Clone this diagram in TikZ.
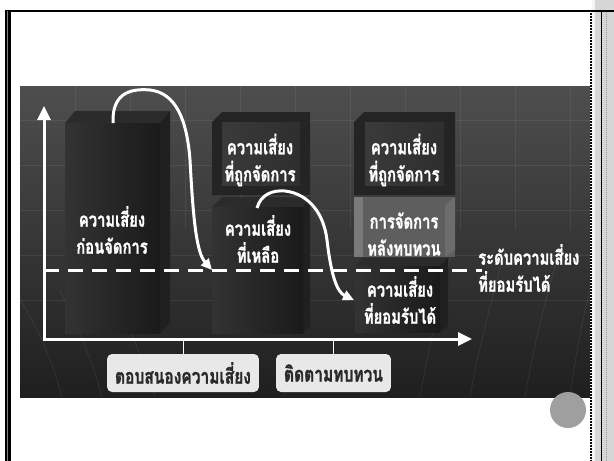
\documentclass[tikz,border=0pt]{standalone}
\usepackage{fontspec}
\newfontfamily\thai[Script=Thai, FakeStretch=0.74, BoldFeatures={FakeBold=1.2}]{Loma}
\usetikzlibrary{arrows.meta}

\definecolor{panelTop}{HTML}{4E4E4E}
\definecolor{panelBot}{HTML}{1F1F1F}
\definecolor{faceL}{HTML}{333333}
\definecolor{faceR}{HTML}{1A1A1A}
\definecolor{topFace}{HTML}{2B2B2B}
\definecolor{sideFace}{HTML}{202020}
\definecolor{frameDark}{HTML}{242424}
\definecolor{frameIn}{HTML}{3A3A3A}
\definecolor{liteMid}{HTML}{5E5E5E}
\definecolor{liteEdge}{HTML}{7A7A7A}
\definecolor{lblFill}{HTML}{E8E8E8}
\definecolor{lblText}{HTML}{2A2A2A}
\definecolor{stripGray}{HTML}{D6D6D6}
\definecolor{dotGray}{HTML}{9A9A9A}

\tikzset{
  wtxt/.style={text=white, font=\thai\bfseries\fontsize{20}{27}\selectfont, align=center, inner sep=0pt},
  lbl/.style={draw=none, fill=lblFill, rounded corners=5pt, text=lblText,
    font=\thai\bfseries\fontsize{21}{22}\selectfont, minimum height=38pt, inner xsep=8pt},
  axisline/.style={white, line width=3pt, -{Triangle[length=14pt,width=13pt]}},
  curvearrow/.style={white, line width=3pt, -{Triangle[length=11pt,width=10pt]}},
  faint/.style={white, opacity=0.07, line width=0.8pt},
}

\begin{document}
\begin{tikzpicture}[x=1pt,y=-1pt]
\useasboundingbox (0,0) rectangle (614,461);
\fill[white] (0,0) rectangle (614,461);

% right hatched margin strip
\fill[stripGray] (594,0) rectangle (614,461);
\fill[white!92!gray] (592,0) rectangle (595,461);
\draw[black, line width=1.2pt] (601.5,10) -- (601.5,461);
\draw[dotGray, line width=1pt, dash pattern=on 1pt off 1pt] (606,10) -- (606,461);

% page frame
\draw[black, line width=2pt] (5,10.5) -- (614,10.5);
\fill[black] (5,10) rectangle (10.5,461);
\draw[gray, line width=1pt] (7.8,11) -- (7.8,461);
\draw[black, line width=2pt, dash pattern=on 2pt off 1pt] (591,10) -- (591,461);

% dark panel
\shade[top color=panelTop, bottom color=panelBot] (20,86) rectangle (590,397);

% faint globe grid
\begin{scope}
\clip (20,86) rectangle (590,397);
\foreach \yy in {120,165,210,255,300} \draw[faint] (20,\yy) -- (590,\yy);
\foreach \xx in {75,130,185,240,295,350,405,460,515,570} \draw[faint] (\xx,86) -- (\xx,230);
\draw[faint] (20,300) .. controls (40,330) and (55,370) .. (62,397);
\draw[faint] (60,290) .. controls (80,330) and (95,370) .. (102,397);
\draw[faint] (130,330) .. controls (140,355) and (150,380) .. (155,397);
\draw[faint] (420,397) .. controls (430,340) and (440,300) .. (452,250);
\draw[faint] (470,397) .. controls (480,340) and (492,300) .. (505,250);
\draw[faint] (525,397) .. controls (535,340) and (545,300) .. (560,250);
\draw[faint] (570,397) .. controls (575,360) and (582,320) .. (590,290);
\end{scope}

% ---- bar 1: risk before treatment
\fill[topFace] (65,123) -- (75,111) -- (170,111) -- (160,123) -- cycle;
\fill[sideFace] (160,123) -- (170,111) -- (170,323) -- (160,333) -- cycle;
\shade[left color=faceL, right color=faceR] (65,123) rectangle (160,333);

% ---- bar 2 upper: treated risk (bevel frame)
\fill[frameDark] (212,122) -- (222,112) -- (310,112) -- (310,195) -- (212,195) -- cycle;
\shade[left color=frameIn, right color=frameIn!80!black] (222,122) rectangle (300,185);

% ---- bar 2 lower: residual risk
\fill[topFace] (212,207) -- (222,197) -- (310,197) -- (303,207) -- cycle;
\fill[sideFace] (303,207) -- (310,197) -- (310,326) -- (303,333) -- cycle;
\shade[left color=faceL, right color=faceR] (212,207) rectangle (303,333);

% ---- bar 3 upper: treated risk (bevel frame)
\fill[frameDark] (354,122) -- (364,112) -- (455,112) -- (455,195) -- (354,195) -- cycle;
\shade[left color=frameIn, right color=frameIn!80!black] (365,122) rectangle (444,185);

% ---- bar 3 middle: treatment after review
\fill[liteMid] (354,197) rectangle (455,257);
\fill[liteEdge] (354,197) rectangle (363,257);
\fill[liteEdge!110!white] (445,205) -- (455,197) -- (455,250) -- (445,257) -- cycle;

% ---- bar 3 lower: acceptable risk
\fill[topFace] (355,266) -- (363,258) -- (448,258) -- (440,266) -- cycle;
\fill[sideFace] (440,266) -- (448,258) -- (448,326) -- (440,332) -- cycle;
\shade[left color=faceL, right color=faceR] (355,266) rectangle (440,332);

% axes
\coordinate (o) at (44,339);
\coordinate (ytop) at (44,106);
\coordinate (xend) at (472,339);
\draw[axisline] ([yshift=1.5pt]o) -- (ytop);
\draw[axisline] ([xshift=-1.5pt]o) -- (xend);

% acceptable-risk level
\coordinate (lvlL) at (44,270);
\coordinate (lvlR) at (482,270);
\draw[white, line width=3pt, dash pattern=on 15pt off 9pt] (lvlL) -- (lvlR);

% bar texts
\node[wtxt] (before) at (112,230) {ความเสี่ยง\\ก่อนจัดการ};
\node[wtxt] (treatedA) at (260,160) {ความเสี่ยง\\ที่ถูกจัดการ};
\node[wtxt] (residual) at (258,239) {ความเสี่ยง\\ที่เหลือ};
\node[wtxt] (treatedB) at (404,160) {ความเสี่ยง\\ที่ถูกจัดการ};
\node[wtxt] (review) at (404,234) {การจัดการ\\หลังทบทวน};
\node[wtxt] (accept) at (400,300) {ความเสี่ยง\\ที่ยอมรับได้};
\node[wtxt, align=left, anchor=west] (level) at (478,268) {ระดับความเสี่ยง\\ที่ยอมรับได้};

% flow arrows
\coordinate (a1s) at (113,123);
\coordinate (a1e) at (212,270);
\coordinate (a2s) at (257,208);
\coordinate (a2e) at (354,300);
\draw[curvearrow] (a1s) .. controls (112,95) and (128,88) .. (150,90)
   .. controls (176,93) and (187,120) .. (190,160)
   .. controls (193,215) and (196,252) .. (a1e);
\draw[curvearrow] (a2s) .. controls (261,194) and (273,190) .. (285,191)
   .. controls (310,194) and (324,215) .. (327,240)
   .. controls (331,275) and (337,292) .. (a2e);

% stage labels
\node[lbl] (respond) at (183,373) {ตอบสนองความเสี่ยง};
\node[lbl] (monitor) at (333.5,373) {ติดตามทบทวน};
\draw[white, line width=1pt] (respond.north) -- (respond.north |- o);
\draw[white, line width=1pt] (monitor.north) -- (monitor.north |- o);

% slide marker
\fill[gray!75] (568,410) circle (18);
\end{tikzpicture}
\end{document}
